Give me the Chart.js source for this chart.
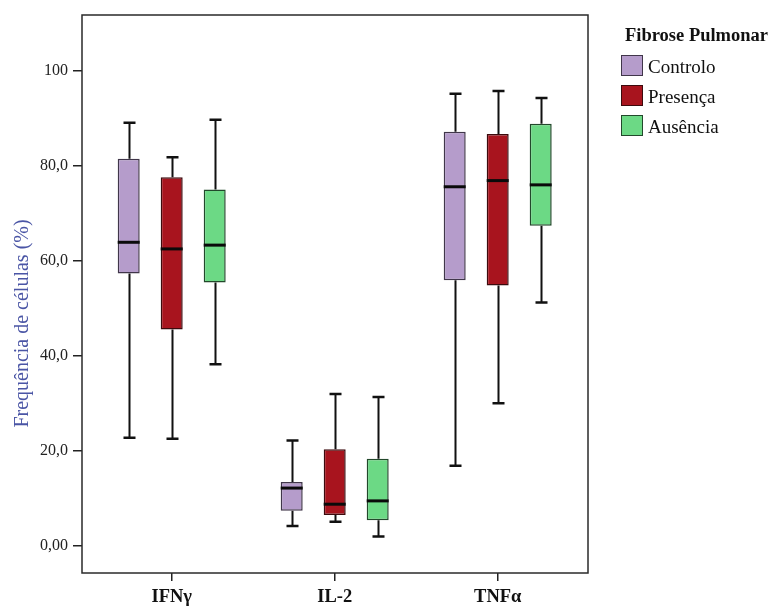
<!DOCTYPE html>
<html lang="pt">
<head>
<meta charset="utf-8">
<title>Frequência de células</title>
<script src="https://cdn.jsdelivr.net/npm/chart.js@4.4.1/dist/chart.umd.min.js"></script>
<style>
  html, body { margin: 0; padding: 0; background: #fff; }
  #wrap { position: relative; width: 779px; height: 606px; }
  #legend {
    position: absolute; left: 621px; top: 26px;
    font-family: 'Liberation Serif', 'Times New Roman', serif; color: #111;
  }
  #legend .title { font-weight: bold; font-size: 18.5px; line-height: 1; margin-left: 4px; margin-bottom: 10.5px; white-space: nowrap; }
  #legend .item { position: relative; height: 30px; }
  #legend .swatch { position: absolute; left: 0; top: 0; width: 22px; height: 21px; box-sizing: border-box; border: 1.5px solid #333; }
  #legend .label { position: absolute; left: 27px; top: 2px; font-size: 19px; line-height: 1; white-space: nowrap; }
</style>
</head>
<body>
<div id="wrap">
  <canvas id="myChart"></canvas>
  <div id="legend"></div>
</div>
<script>
const categories = ["IFNγ", "IL-2", "TNFα"];
const groups = ["Controlo", "Presença", "Ausência"];
const legendTitle = "Fibrose Pulmonar";
const yTitle = "Frequência de células (%)";

// y tick values and their labels
const yTickValues = [0, 20, 40, 60, 80, 100];
const yTickLabels = ["0,00", "20,0", "40,0", "60,0", "80,0", "100"];

// [min, Q1, median, Q3, max] per category
const controloStats = [
    [22.7, 57.3, 63.9, 81.5, 89.1],
    [4.1, 7.3, 12.1, 13.4, 22.1],
    [16.8, 55.9, 75.6, 87.2, 95.2]
];
const presencaStats = [
    [22.5, 45.5, 62.5, 77.6, 81.8],
    [5.0, 6.4, 8.7, 20.3, 31.9],
    [30.0, 54.8, 76.9, 86.7, 95.8]
];
const ausenciaStats = [
    [38.2, 55.4, 63.3, 75.0, 89.7],
    [1.9, 5.3, 9.4, 18.3, 31.3],
    [51.2, 67.4, 76.0, 88.9, 94.3]
];

const groupStats = [controloStats, presencaStats, ausenciaStats];
const groupColors = ["#b59ccb", "#a8141e", "#6cd985"];
const groupBorders = ["#40364a", "#3c0a0d", "#22482b"];

const serif = "'Liberation Serif', 'Times New Roman', serif";

// whiskers behind the boxes, medians on top
const boxplotParts = {
    id: "boxplotParts",
    beforeDatasetsDraw(chart) {
        const ctx = chart.ctx;
        const y = chart.scales.y;
        ctx.save();
        ctx.strokeStyle = "#111";
        chart.data.datasets.forEach((ds, d) => {
            chart.getDatasetMeta(d).data.forEach((bar, i) => {
                const s = ds.stats[i];
                const x = Math.round(bar.x) + 0.5;
                ctx.lineWidth = 2;
                ctx.beginPath();
                ctx.moveTo(x, y.getPixelForValue(s[3]));
                ctx.lineTo(x, y.getPixelForValue(s[4]));
                ctx.moveTo(x, y.getPixelForValue(s[1]));
                ctx.lineTo(x, y.getPixelForValue(s[0]));
                ctx.stroke();
                ctx.lineWidth = 2.5;
                ctx.beginPath();
                [s[0], s[4]].forEach(v => {
                    const py = y.getPixelForValue(v);
                    ctx.moveTo(x - 6, py);
                    ctx.lineTo(x + 6, py);
                });
                ctx.stroke();
            });
        });
        ctx.restore();
    },
    afterDatasetsDraw(chart) {
        const ctx = chart.ctx;
        const y = chart.scales.y;
        ctx.save();
        ctx.strokeStyle = "#0a0a0a";
        ctx.lineWidth = 3;
        chart.data.datasets.forEach((ds, d) => {
            chart.getDatasetMeta(d).data.forEach((bar, i) => {
                const py = y.getPixelForValue(ds.stats[i][2]);
                ctx.beginPath();
                ctx.moveTo(bar.x - bar.width / 2, py);
                ctx.lineTo(bar.x + bar.width / 2, py);
                ctx.stroke();
            });
        });
        ctx.restore();
    }
};

// frame around the plot and the rotated y title
const frameAndTitle = {
    id: "frameAndTitle",
    afterDraw(chart) {
        const { ctx, chartArea } = chart;
        ctx.save();
        ctx.strokeStyle = "#2a2a2a";
        ctx.lineWidth = 1.5;
        ctx.strokeRect(chartArea.left, chartArea.top, chartArea.width, chartArea.height);

        ctx.translate(27.5, (chartArea.top + chartArea.bottom) / 2 + 29.5);
        ctx.rotate(-Math.PI / 2);
        ctx.fillStyle = "#4a55a5";
        ctx.font = "20px " + serif;
        ctx.textAlign = "center";
        ctx.textBaseline = "alphabetic";
        ctx.fillText(yTitle, 0, 0);
        ctx.restore();
    }
};

const datasets = groups.map((g, d) => ({
    label: g,
    data: groupStats[d].map((s, i) => ({ x: i + 1, y: [s[1], s[3]] })),
    stats: groupStats[d],
    backgroundColor: groupColors[d],
    borderColor: groupBorders[d],
    borderWidth: 1.5,
    borderSkipped: false,
    categoryPercentage: 0.7914,
    barPercentage: 0.5116
}));

new Chart(document.getElementById("myChart"), {
    type: "bar",
    data: { datasets: datasets },
    options: {
        responsive: true,
        maintainAspectRatio: false,
        animation: false,
        layout: { padding: { top: 15, right: 191, bottom: 0, left: 0 } },
        plugins: {
            legend: { display: false },
            tooltip: { enabled: false }
        },
        scales: {
            x: {
                type: "linear",
                offset: false,
                min: 0.4497,
                max: 3.554,
                afterBuildTicks: scale => { scale.ticks = categories.map((c, i) => ({ value: i + 1 })); },
                afterFit: scale => { scale.height = 33; },
                border: { display: false },
                grid: { offset: false, drawOnChartArea: false, drawTicks: true, tickLength: 8, color: "#222", lineWidth: 1.5 },
                ticks: {
                    padding: 5,
                    color: "#111",
                    font: { family: serif, size: 18.5, weight: "bold" },
                    callback: v => categories[v - 1]
                }
            },
            y: {
                min: -5.8,
                max: 111.8,
                afterBuildTicks: scale => { scale.ticks = yTickValues.map(v => ({ value: v })); },
                afterFit: scale => { scale.width = 82; },
                border: { display: false },
                grid: { drawOnChartArea: false, drawTicks: true, tickLength: 9, color: "#222", lineWidth: 1.5 },
                ticks: {
                    padding: 5,
                    color: "#222",
                    font: { family: serif, size: 16 },
                    callback: v => yTickLabels[yTickValues.indexOf(v)]
                }
            }
        }
    },
    plugins: [boxplotParts, frameAndTitle]
});

// legend beside the plot
const legendBox = document.getElementById("legend");
let legendHtml = `<div class="title">${legendTitle}</div>`;
groups.forEach((g, d) => {
    legendHtml += `<div class="item"><span class="swatch" style="background:${groupColors[d]};border-color:${groupBorders[d]}"></span><span class="label">${g}</span></div>`;
});
legendBox.innerHTML = legendHtml;
</script>
</body>
</html>
